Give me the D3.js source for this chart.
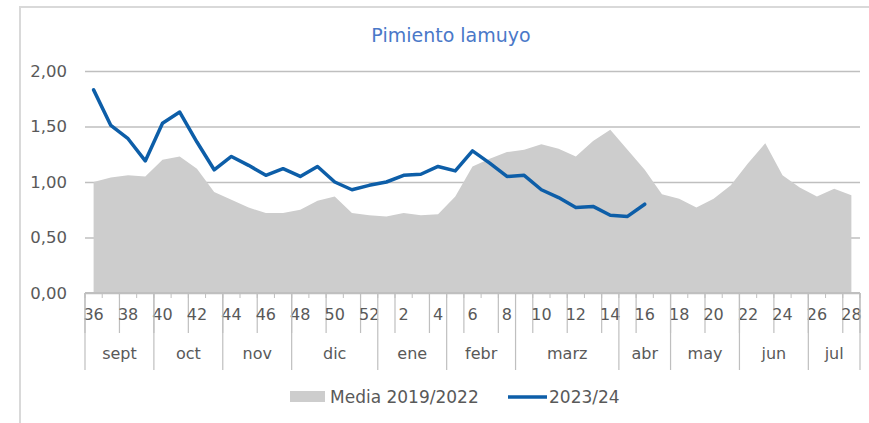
<!DOCTYPE html>
<html>
<head>
<meta charset="utf-8">
<script src="https://cdn.jsdelivr.net/npm/d3@7"></script>
<style>
  body { margin: 0; background: #fff; }
  svg { display: block; font-family: 'Century Gothic', 'DejaVu Sans', sans-serif; }
</style>
</head>
<body>
<div id="chart"></div>
<script>
let weeks = [36, 37, 38, 39, 40, 41, 42, 43, 44, 45, 46, 47, 48, 49, 50, 51, 52,
  1, 2, 3, 4, 5, 6, 7, 8, 9, 10, 11, 12, 13, 14, 15, 16, 17, 18, 19, 20, 21, 22, 23, 24, 25, 26, 27, 28]

let media = [1.00, 1.04, 1.06, 1.05, 1.20, 1.23, 1.12, 0.91, 0.84, 0.77, 0.72, 0.72, 0.75, 0.83, 0.87, 0.72, 0.70,
  0.69, 0.72, 0.70, 0.71, 0.87, 1.14, 1.21, 1.27, 1.29, 1.34, 1.30, 1.23, 1.37, 1.47, 1.29, 1.11, 0.89, 0.85,
  0.77, 0.85, 0.97, 1.17, 1.35, 1.06, 0.95, 0.87, 0.94, 0.88]

let campaign = [1.83, 1.51, 1.39, 1.19, 1.53, 1.63, 1.36, 1.11, 1.23, 1.15, 1.06, 1.12, 1.05, 1.14, 1.00, 0.93, 0.97,
  1.00, 1.06, 1.07, 1.14, 1.10, 1.28, 1.17, 1.05, 1.06, 0.93, 0.86, 0.77, 0.78, 0.70, 0.69, 0.80]

let months = ['sept', 'oct', 'nov', 'dic', 'ene', 'febr', 'marz', 'abr', 'may', 'jun', 'jul']
let monthWeeks = [4, 4, 4, 5, 4, 4, 6, 3, 4, 4, 3]

let yTicks = [0, 0.5, 1, 1.5, 2]

let title = 'Pimiento lamuyo'
let seriesNames = ['Media 2019/2022', '2023/24']

let width = 869
let height = 423
let margin = { top: 71, right: 9, bottom: 130, left: 85 }

let grey = '#595959'
let axisGrey = '#bfbfbf'
let areaFill = '#cdcdcd'
let blue = '#0d5ea8'

let svg = d3.select('#chart').append('svg')
  .attr('width', width)
  .attr('height', height)

// outer frame, only left and top edges are visible
svg.append('path')
  .attr('d', 'M20,' + height + 'V7H' + width)
  .attr('fill', 'none')
  .attr('stroke', '#d9d9d9')
  .attr('stroke-width', 2)

let x = d3.scaleBand()
  .domain(weeks)
  .range([margin.left, width - margin.right])
  .padding(0)

let y = d3.scaleLinear()
  .domain([0, 2])
  .range([height - margin.bottom, margin.top])

let cx = function (w) { return x(w) + x.bandwidth() / 2 }

svg.append('text')
  .attr('x', 451)
  .attr('y', 42)
  .attr('text-anchor', 'middle')
  .attr('fill', '#4a78c8')
  .style('font-size', '19px')
  .text(title)

// gridlines and y labels
let yAxis = d3.axisLeft(y)
  .tickValues(yTicks)
  .tickSize(-(width - margin.left - margin.right))
  .tickPadding(18)
  .tickFormat(function (d) { return d3.format('.2f')(d).replace('.', ',') })

let gy = svg.append('g')
  .attr('transform', 'translate(' + margin.left + ',0)')
  .call(yAxis)
gy.select('.domain').remove()
gy.selectAll('line')
  .attr('stroke', axisGrey)
  .attr('stroke-width', 1.5)
gy.selectAll('text')
  .attr('fill', grey)
  .style('font-size', '16.5px')
  .style('font-family', "'Century Gothic', 'DejaVu Sans', sans-serif")

// media area
let area = d3.area()
  .x(function (d, i) { return cx(weeks[i]) })
  .y0(y(0))
  .y1(function (d) { return y(d) })

svg.append('path')
  .datum(media)
  .attr('d', area)
  .attr('fill', areaFill)

// category axis
let axisY = y(0)
let g = svg.append('g').attr('class', 'x axis')

g.append('line')
  .attr('x1', x.range()[0]).attr('x2', x.range()[1])
  .attr('y1', axisY).attr('y2', axisY)
  .attr('stroke', axisGrey)
  .attr('stroke-width', 2)

let bounds = d3.range(weeks.length + 1).map(function (i) { return x.range()[0] + i * x.step() })

g.selectAll('.minor')
  .data(bounds)
  .enter().append('line')
  .attr('class', 'minor')
  .attr('x1', function (d) { return d }).attr('x2', function (d) { return d })
  .attr('y1', axisY).attr('y2', axisY + 5)
  .attr('stroke', axisGrey)

g.selectAll('.lvl1')
  .data(bounds.filter(function (d, i) { return i % 2 === 0 || i === weeks.length }))
  .enter().append('line')
  .attr('class', 'lvl1')
  .attr('x1', function (d) { return d }).attr('x2', function (d) { return d })
  .attr('y1', axisY).attr('y2', axisY + 40)
  .attr('stroke', axisGrey)
  .attr('stroke-width', 1.2)

g.selectAll('.wk')
  .data(weeks.filter(function (d, i) { return i % 2 === 0 }))
  .enter().append('text')
  .attr('class', 'wk')
  .attr('x', function (d) { return cx(d) })
  .attr('y', axisY + 27)
  .attr('text-anchor', 'middle')
  .attr('fill', grey)
  .style('font-size', '16px')
  .text(function (d) { return d })

let starts = [0]
monthWeeks.forEach(function (n, i) { starts.push(starts[i] + n) })

g.selectAll('.mline')
  .data(starts)
  .enter().append('line')
  .attr('class', 'mline')
  .attr('x1', function (d) { return bounds[d] }).attr('x2', function (d) { return bounds[d] })
  .attr('y1', axisY).attr('y2', axisY + 77)
  .attr('stroke', axisGrey)
  .attr('stroke-width', 1.2)

g.selectAll('.month')
  .data(months)
  .enter().append('text')
  .attr('class', 'month')
  .attr('x', function (d, i) { return (bounds[starts[i]] + bounds[starts[i + 1]]) / 2 })
  .attr('y', axisY + 66)
  .attr('text-anchor', 'middle')
  .attr('fill', grey)
  .style('font-size', '16px')
  .text(function (d) { return d })

// 2023/24 line
let line = d3.line()
  .x(function (d, i) { return cx(weeks[i]) })
  .y(function (d) { return y(d) })

svg.append('path')
  .datum(campaign)
  .attr('d', line)
  .attr('fill', 'none')
  .attr('stroke', blue)
  .attr('stroke-width', 3.5)
  .attr('stroke-linejoin', 'round')
  .attr('stroke-linecap', 'round')

// legend
let legend = svg.append('g').attr('class', 'legend')

legend.append('rect')
  .attr('x', 290).attr('y', 391)
  .attr('width', 35).attr('height', 11)
  .attr('fill', areaFill)

legend.append('text')
  .attr('x', 330).attr('y', 403)
  .attr('fill', grey)
  .style('font-size', '17px')
  .text(seriesNames[0])

legend.append('line')
  .attr('x1', 508).attr('x2', 547)
  .attr('y1', 397).attr('y2', 397)
  .attr('stroke', blue)
  .attr('stroke-width', 3.5)

legend.append('text')
  .attr('x', 549).attr('y', 403)
  .attr('fill', grey)
  .style('font-size', '17px')
  .text(seriesNames[1])
</script>
</body>
</html>
